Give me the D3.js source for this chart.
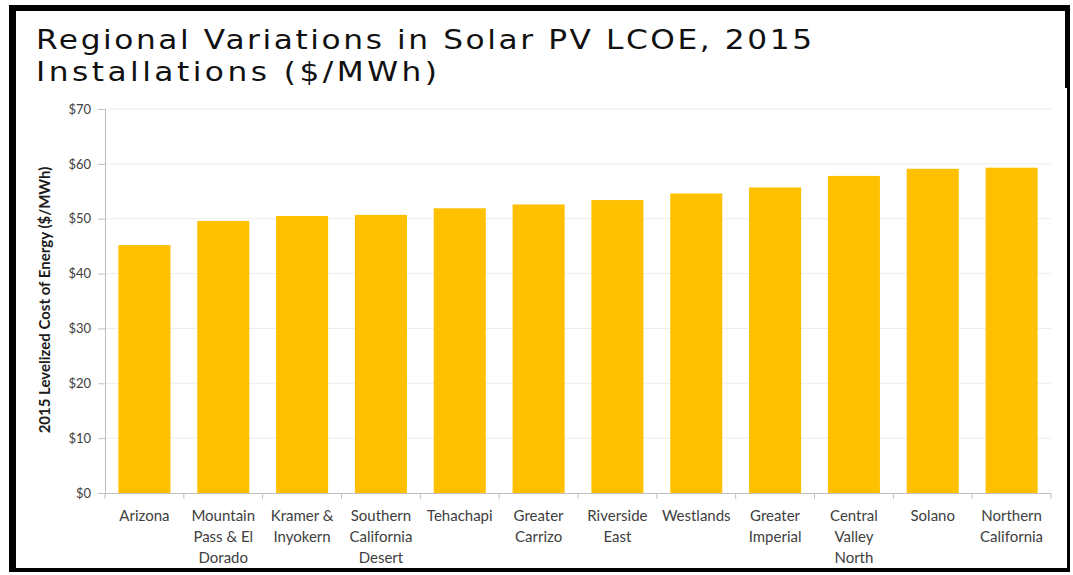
<!DOCTYPE html>
<html>
<head>
<meta charset="utf-8">
<script src="https://cdn.jsdelivr.net/npm/d3@7"></script>
<style>
  body { margin: 0; background: #fff; }
  svg { display: block; }
</style>
</head>
<body>
<svg id="chart" width="1073" height="575"></svg>
<script>
// regions, in plotted order
const regions = [
  "Arizona", "Mountain\nPass & El\nDorado", "Kramer &\nInyokern", "Southern\nCalifornia\nDesert",
  "Tehachapi", "Greater\nCarrizo", "Riverside\nEast", "Westlands",
  "Greater\nImperial", "Central\nValley\nNorth", "Solano", "Northern\nCalifornia"
];
// 2015 levelized cost, $/MWh
const lcoe = [45.2, 49.6, 50.5, 50.7, 51.9, 52.6, 53.4, 54.6, 55.7, 57.8, 59.1, 59.3];
const yTicks = [0, 10, 20, 30, 40, 50, 60, 70];

const svg = d3.select("#chart");

// plot box
const plotLeft = 105, plotRight = 1051, plotTop = 109, plotBottom = 493;

const x = d3.scaleBand()
  .domain(regions)
  .range([plotLeft, plotRight])
  .paddingInner(0.34)
  .paddingOuter(0.17);

const y = d3.scaleLinear()
  .domain([0, 70])
  .range([plotBottom, plotTop]);

// gridlines
svg.append("g")
  .selectAll("line")
  .data(yTicks.slice(1))
  .join("line")
  .attr("x1", plotLeft).attr("x2", plotRight)
  .attr("y1", d => y(d)).attr("y2", d => y(d))
  .attr("stroke", "#ececec")
  .attr("stroke-width", 1);

// bars
svg.append("g")
  .selectAll("rect")
  .data(lcoe)
  .join("rect")
  .attr("x", (d, i) => x(regions[i]))
  .attr("y", d => y(d))
  .attr("width", x.bandwidth())
  .attr("height", d => plotBottom - y(d))
  .attr("fill", "#ffc000");

// y axis
const yAxis = svg.append("g")
  .attr("transform", `translate(${plotLeft},0)`)
  .call(d3.axisLeft(y).tickValues(yTicks).tickSize(7).tickPadding(7).tickFormat(d => "$" + d));
yAxis.select(".domain").attr("stroke", "#bfbfbf");
yAxis.selectAll(".tick line").attr("stroke", "#bfbfbf");
yAxis.selectAll(".tick text")
  .attr("font-family", "Lato, 'Open Sans', sans-serif")
  .attr("font-size", 13)
  .attr("fill", "#404040");

// x axis: ticks sit between the bands
const bounds = d3.range(regions.length + 1).map(i => plotLeft + i * (plotRight - plotLeft) / regions.length);
const xAxis = svg.append("g");
xAxis.append("line")
  .attr("x1", plotLeft).attr("x2", plotRight)
  .attr("y1", plotBottom + 0.5).attr("y2", plotBottom + 0.5)
  .attr("stroke", "#bfbfbf");
xAxis.selectAll("line.tk")
  .data(bounds)
  .join("line")
  .attr("class", "tk")
  .attr("x1", d => d).attr("x2", d => d)
  .attr("y1", plotBottom).attr("y2", plotBottom + 6)
  .attr("stroke", "#bfbfbf");

xAxis.selectAll("text")
  .data(regions)
  .join("text")
  .attr("x", d => x(d) + x.bandwidth() / 2)
  .attr("y", 521)
  .attr("text-anchor", "middle")
  .attr("font-family", "Lato, 'Open Sans', sans-serif")
  .attr("font-size", 15)
  .attr("fill", "#404040")
  .each(function (d) {
    d.split("\n").forEach((line, k) => {
      d3.select(this).append("tspan")
        .attr("x", x(d) + x.bandwidth() / 2)
        .attr("dy", k === 0 ? 0 : 21)
        .text(line);
    });
  });

// y axis title
svg.append("text")
  .attr("transform", `translate(50,300) rotate(-90)`)
  .attr("text-anchor", "middle")
  .attr("font-family", "Lato, 'Open Sans', sans-serif")
  .attr("font-weight", "bold")
  .attr("font-size", 15)
  .attr("fill", "#1a1a1a")
  .text("2015 Levelized Cost of Energy ($/MWh)");

// slide title (stretched wide), bottom of line two is hidden behind the chart picture
const stretch = 1.2;
const title = svg.append("g")
  .attr("transform", `scale(${stretch},1)`)
  .attr("font-family", "'DejaVu Sans', Verdana, sans-serif")
  .attr("font-size", 26)
  .attr("fill", "#111");
title.append("text")
  .attr("x", 36 / stretch).attr("y", 49)
  .attr("textLength", 776 / stretch).attr("lengthAdjust", "spacing")
  .text("Regional Variations in Solar PV LCOE, 2015");
title.append("text")
  .attr("x", 36 / stretch).attr("y", 81)
  .attr("textLength", 401 / stretch).attr("lengthAdjust", "spacing")
  .text("Installations ($/MWh)");
svg.append("rect")
  .attr("x", 16).attr("y", 87)
  .attr("width", 1049).attr("height", 8)
  .attr("fill", "#fff");

// black frame
const frame = svg.append("g").attr("fill", "#000");
frame.append("rect").attr("x", 9).attr("y", 5).attr("width", 7).attr("height", 567);
frame.append("rect").attr("x", 9).attr("y", 5).attr("width", 1061).attr("height", 6);
frame.append("rect").attr("x", 1065).attr("y", 5).attr("width", 5).attr("height", 83);
frame.append("rect").attr("x", 1067).attr("y", 88).attr("width", 3).attr("height", 484);
frame.append("rect").attr("x", 9).attr("y", 568).attr("width", 1061).attr("height", 4);
</script>
</body>
</html>
